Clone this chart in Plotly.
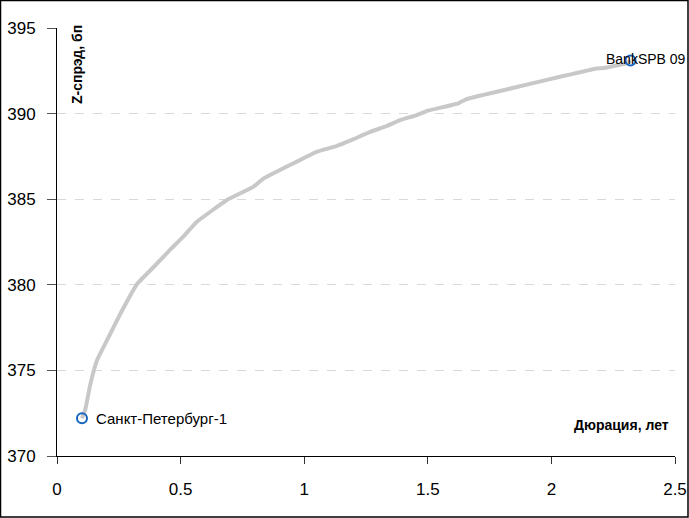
import plotly.graph_objects as go

# Curve data (duration, z-spread)
curve_x = [0.101, 0.114, 0.135, 0.162, 0.202, 0.256, 0.324, 0.391, 0.458, 0.51, 0.565, 0.686, 0.794, 0.835,
           0.943, 1.05, 1.13, 1.19, 1.27, 1.33, 1.388, 1.455, 1.495, 1.623, 1.657, 1.86, 2.035, 2.183, 2.21, 2.305, 2.32]
curve_y = [372.2, 372.7, 374.2, 375.6, 376.75, 378.3, 380.05, 381.04, 382.05, 382.8, 383.67, 384.94, 385.72, 386.2,
           387.0, 387.77, 388.1, 388.45, 388.95, 389.25, 389.62, 389.91, 390.15, 390.6, 390.85, 391.55, 392.15, 392.64, 392.66, 392.95, 393.1]

# Bond points
bond_names = ["Санкт-Петербург-1", "BankSPB 09"]
bond_x = [0.101, 2.32]
bond_y = [372.2, 393.1]

W, H = 689, 518
L, R, T, B = 57, 14, 28, 62
PW, PH = W - L - R, H - T - B

def px(xp):
    return (xp - L) / PW

def py(yp):
    return 1 - (yp - T) / PH

fig = go.Figure()
fig.add_trace(go.Scatter(x=curve_x, y=curve_y, mode="lines",
                         line=dict(color="#c8c8c8", width=4, shape="spline", smoothing=0.3),
                         hoverinfo="skip", showlegend=False))
fig.add_trace(go.Scatter(x=bond_x, y=bond_y, mode="markers",
                         marker=dict(size=10, color="rgba(0,0,0,0)", line=dict(color="#1565c0", width=2)),
                         showlegend=False))

fig.add_annotation(x=bond_x[0], y=bond_y[0], text=bond_names[0], showarrow=False,
                   xanchor="left", yanchor="middle", xshift=12,
                   font=dict(family="Liberation Sans", size=15, color="#000"))
fig.add_annotation(x=bond_x[1], y=bond_y[1], text=bond_names[1], showarrow=False,
                   xanchor="left", yanchor="middle", xshift=-27, yshift=2,
                   font=dict(family="Liberation Sans", size=14, color="#000"))

fig.add_annotation(xref="paper", yref="paper", x=px(77), y=py(65), text="<b>Z-спрэд, бп</b>",
                   textangle=-90, showarrow=False, xanchor="center", yanchor="middle",
                   font=dict(family="Liberation Sans", size=14, color="#000"))
fig.add_annotation(xref="paper", yref="paper", x=px(671), y=py(425), text="<b>Дюрация, лет</b>",
                   showarrow=False, xanchor="right", yanchor="middle",
                   font=dict(family="Liberation Sans", size=14, color="#000"))

# outer frame
fig.add_shape(type="rect", xref="paper", yref="paper", x0=px(0.5), x1=px(W - 1), y0=py(H - 1), y1=py(0.5),
              line=dict(color="#000", width=1.5), layer="above")

fig.update_layout(
    width=W, height=H, margin=dict(l=L, r=R, t=T, b=B, autoexpand=False),
    paper_bgcolor="white", plot_bgcolor="white",
    font=dict(family="Liberation Sans", size=17, color="#000"),
    showlegend=False,
)
fig.update_xaxes(range=[0, 2.5], tickvals=[0, 0.5, 1, 1.5, 2, 2.5], ticktext=["0", "0.5", "1", "1.5", "2", "2.5"],
                 showgrid=False, zeroline=False, showline=True, linecolor="#000", linewidth=1, automargin=False,
                 ticks="outside", ticklen=7, tickcolor="#333", ticklabelstandoff=11)
fig.update_yaxes(range=[370, 395], tickvals=[370, 375, 380, 385, 390, 395],
                 showgrid=True, gridcolor="#d9d9d9", griddash="dash", gridwidth=1, automargin=False,
                 zeroline=False, showline=True, linecolor="#000", linewidth=1,
                 ticks="outside", ticklen=9, tickcolor="#555", ticklabelstandoff=8)

fig.write_html("out.html")
